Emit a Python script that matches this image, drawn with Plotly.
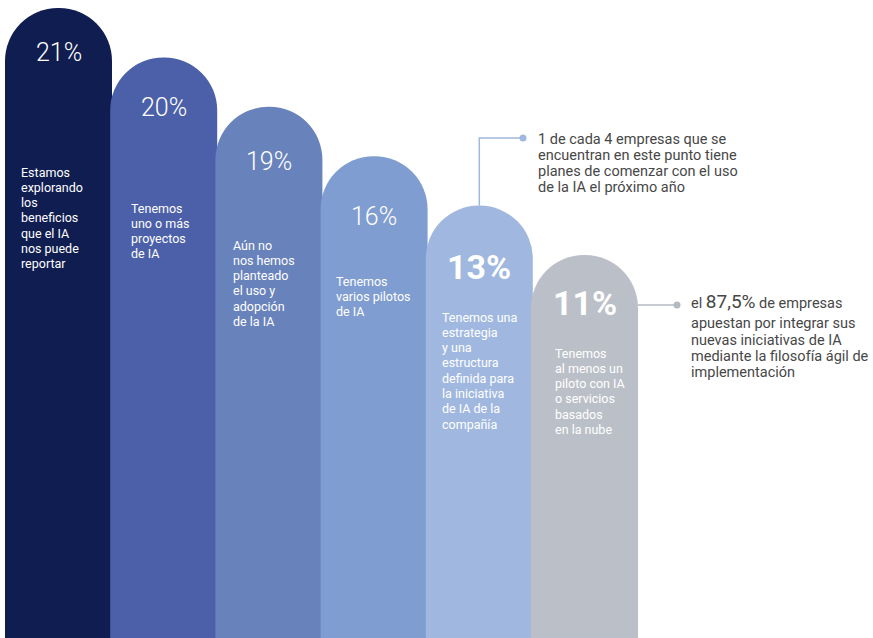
import numpy as np
import plotly.graph_objects as go

# ---- data -----------------------------------------------------------------
values = [21, 20, 19, 16, 13, 11]
value_labels = ["21%", "20%", "19%", "16%", "13%", "11%"]
descriptions = [
    ["Estamos", "explorando", "los", "beneficios", "que el IA", "nos puede", "reportar"],
    ["Tenemos", "uno o más", "proyectos", "de IA"],
    ["Aún no", "nos hemos", "planteado", "el uso y", "adopción", "de la IA"],
    ["Tenemos", "varios pilotos", "de IA"],
    ["Tenemos una", "estrategia", "y una", "estructura", "definida para",
     "la iniciativa", "de IA de la", "compañía"],
    ["Tenemos", "al menos un", "piloto con IA", "o servicios", "basados", "en la nube"],
]
note_top = ["1 de cada 4 empresas que se", "encuentran en este punto tiene",
            "planes de comenzar con el uso", "de la IA el próximo año"]
note_right = ["el <span style='font-size:19px'>87,5%</span> de empresas",
              "apuestan por integrar sus", "nuevas iniciativas de IA",
              "mediante la filosofía ágil de", "implementación"]

# ---- styles / layout ------------------------------------------------------
W, H = 873, 638
bar_colors = ["#101d50", "#4b60a8", "#6882bc", "#7f9dd0", "#a0b8e0", "#bbc0c8"]
UNIT_X = 105.2          # pixels per bar slot
UNIT_Y = 49.4           # pixels per step of the staircase
X0 = -58.5 / UNIT_X     # left edge of the plotting range
BAR_W = 107 / UNIT_X
STEP_BASE = 333.6 / UNIT_Y


def px_x(px):
    return X0 + px / UNIT_X


def px_y(py):
    return (H - py) / UNIT_Y


n = len(values)
xs = np.arange(n)
# staircase: the larger the share, the taller the column
order = np.argsort(np.argsort(-np.array(values)))
heights = (n - order) + STEP_BASE

fig = go.Figure()
fig.add_trace(go.Bar(
    x=xs, y=heights, width=BAR_W,
    marker=dict(color=bar_colors, cornerradius="50%", line=dict(width=0)),
    customdata=values, hovertemplate="%{customdata}%<extra></extra>",
))

FONT = "Roboto, 'Noto Sans', sans-serif"
annotations = []

# percentage labels
label_y = [52, 107, 161, 216, 267, 303]
for i, lab in enumerate(value_labels):
    big = i >= 4
    annotations.append(dict(
        x=xs[i], y=px_y(label_y[i]), xref="x", yref="y",
        text=lab, showarrow=False, xanchor="center", yanchor="middle",
        font=dict(family=FONT, color="white", size=34 if big else 25,
                  weight=700 if big else 300),
    ))

# description text inside the columns
desc_x = [20, 130, 232, 335, 441, 554]
desc_top = [167, 203, 240, 276, 312, 348]
LINE = 15.3
for i, lines in enumerate(descriptions):
    for j, line in enumerate(lines):
        annotations.append(dict(
            x=px_x(desc_x[i]), y=px_y(desc_top[i] + 5 + j * LINE),
            xref="x", yref="y", text=line, showarrow=False,
            xanchor="left", yanchor="middle", borderpad=0,
            font=dict(family=FONT, color="white", size=12.5),
        ))

# callout notes
NOTE_COLOR = "#474747"
for j, line in enumerate(note_top):
    annotations.append(dict(
        x=px_x(537), y=px_y(139 + j * 16), xref="x", yref="y",
        text=line, showarrow=False, xanchor="left", yanchor="middle",
        borderpad=0, font=dict(family=FONT, color=NOTE_COLOR, size=14.5, weight=400),
    ))
right_y = [301, 323, 340, 356, 372]
for j, line in enumerate(note_right):
    annotations.append(dict(
        x=px_x(690), y=px_y(right_y[j]), xref="x", yref="y",
        text=line, showarrow=False, xanchor="left", yanchor="middle",
        borderpad=0, font=dict(family=FONT, color=NOTE_COLOR, size=14.5, weight=400),
    ))

# connector lines from the columns to the notes
blue_line = "#a0b8e0"
grey_line = "#b5bac1"
fig.add_trace(go.Scatter(
    x=[xs[4], xs[4], px_x(523)],
    y=[heights[4], px_y(138), px_y(138)],
    mode="lines", line=dict(color=blue_line, width=1.5),
    hoverinfo="skip", cliponaxis=False,
))
fig.add_trace(go.Scatter(
    x=[px_x(523)], y=[px_y(138)], mode="markers",
    marker=dict(color=blue_line, size=7), hoverinfo="skip",
))
fig.add_trace(go.Scatter(
    x=[xs[5] + BAR_W / 2, px_x(677)], y=[px_y(305), px_y(305)],
    mode="lines", line=dict(color=grey_line, width=1.5), hoverinfo="skip",
))
fig.add_trace(go.Scatter(
    x=[px_x(677)], y=[px_y(305)], mode="markers",
    marker=dict(color=grey_line, size=7), hoverinfo="skip",
))

fig.update_layout(
    width=W, height=H, margin=dict(l=0, r=0, t=0, b=0),
    paper_bgcolor="white", plot_bgcolor="white",
    showlegend=False, annotations=annotations, barmode="overlay",
    xaxis=dict(range=[X0, X0 + W / UNIT_X], visible=False, fixedrange=True),
    yaxis=dict(range=[0, H / UNIT_Y], visible=False, fixedrange=True),
)

fig.write_html("out.html", config={"displayModeBar": False})
